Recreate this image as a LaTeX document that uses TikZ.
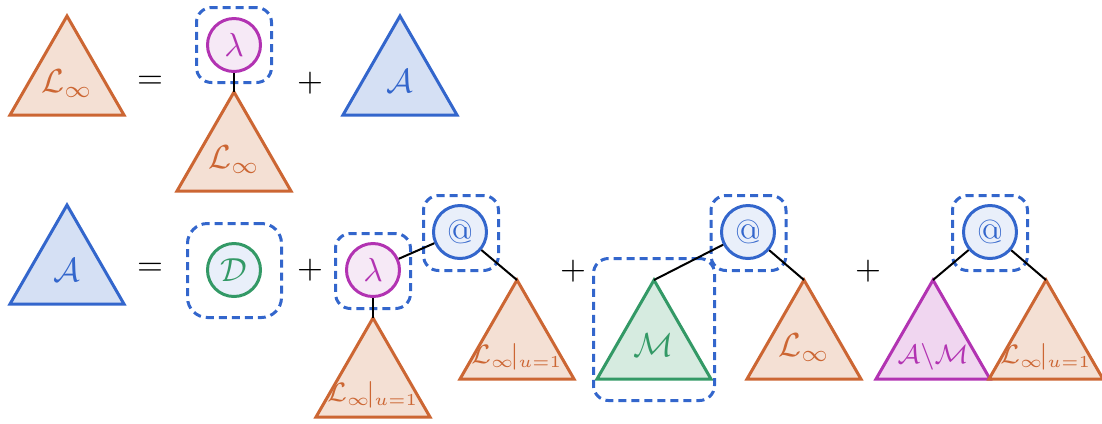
\documentclass[tikz,border=0pt]{standalone}
\usetikzlibrary{calc}
\definecolor{orB}{RGB}{204,102,51}
\definecolor{orF}{RGB}{244,224,212}
\definecolor{blB}{RGB}{51,102,204}
\definecolor{blF}{RGB}{213,224,244}
\definecolor{bcF}{RGB}{233,239,250}
\definecolor{grB}{RGB}{51,153,102}
\definecolor{grF}{RGB}{214,235,224}
\definecolor{mgB}{RGB}{178,51,178}
\definecolor{mgF}{RGB}{240,214,240}
\definecolor{lcF}{RGB}{246,233,246}
\tikzset{
  trishape/.style={line width=0.9pt},
  ttext/.style={anchor=base, inner sep=0pt},
  small/.style={font=\fontsize{7.6}{9}\selectfont},
  circ/.style={circle, line width=0.9pt, minimum size=15.9pt, inner sep=0pt},
  lamnode/.style={circ, draw=mgB, fill=lcF, text=mgB},
  atnode/.style={circ, draw=blB, fill=bcF, text=blB},
  dnode/.style={circ, draw=grB, fill=bcF, text=grB},
  dbox/.style={draw=blB, line width=0.9pt, dash pattern=on 2.4pt off 1.5pt, rounded corners=4.5pt, inner sep=0pt, minimum width=22.5pt, minimum height=22.5pt},
  conn/.style={draw=black, line width=0.6pt},
  op/.style={inner sep=0pt},
}
\newcommand\mytri[6]{%
  \coordinate (#1) at #2;
  \draw[trishape, draw=#3, fill=#4] (#1) -- ++(57,99) -- ++(-114,0) -- cycle;
  \node[ttext, text=#3, #6] (#1-lab) at ($(#1)+(0,76.5)$) {#5};
}
\newcommand\Lu{$\mathcal{L}_{\infty}\!|_{u=1}$}
\begin{document}
\begin{tikzpicture}[x=0.3pt,y=-0.3pt]
\useasboundingbox (0,0) rectangle (1102,423);
% ---- row 1
\mytri{t1}{(67,16)}{orB}{orF}{$\mathcal{L}_\infty$}{}
\node[op] (eq1) at (150,82) {$=$};
\node[dbox] (b1) at (234,45) {};
\node[lamnode] (lam1) at (234,45) {$\lambda$};
\mytri{t2}{(234,92)}{orB}{orF}{$\mathcal{L}_\infty$}{}
\draw[conn] (lam1) -- (t2);
\node[op] (pl1) at (310,83) {$+$};
\mytri{t3}{(400,16)}{blB}{blF}{$\mathcal{A}$}{}
% ---- row 2
\mytri{t4}{(67,205)}{blB}{blF}{$\mathcal{A}$}{}
\node[op] (eq2) at (150,269) {$=$};
\node[dbox, minimum width=28.2pt, minimum height=28.2pt, rounded corners=6pt] (b2) at (234.5,270.5) {};
\node[dnode] (d) at (234,270) {$\mathcal{D}$};
\node[op] (pl2) at (310,270) {$+$};
\node[dbox] (b3) at (373,271) {};
\node[lamnode] (lam2) at (373,270) {$\lambda$};
\node[dbox] (b4) at (461,233) {};
\node[atnode] (at1) at (460,232) {@};
\mytri{t5}{(373,318)}{orB}{orF}{\Lu}{small, yshift=-2.2pt}
\mytri{t6}{(517,280)}{orB}{orF}{\Lu}{small, yshift=-2.2pt}
\draw[conn] (lam2) -- (t5);
\draw[conn] (lam2) -- (at1);
\draw[conn] (at1) -- (t6);
\node[op] (pl3) at (573,271) {$+$};
\node[dbox] (b5) at (748.5,233) {};
\node[atnode] (at2) at (748,232) {@};
\mytri{t7}{(654,280)}{grB}{grF}{$\mathcal{M}$}{}
\node[dbox, minimum width=36.3pt, minimum height=42.6pt] (b6) at (654,329.5) {};
\mytri{t8}{(804,280)}{orB}{orF}{$\mathcal{L}_\infty$}{}
\draw[conn] (at2) -- (t7);
\draw[conn] (at2) -- (t8);
\node[op] (pl4) at (868,271) {$+$};
\node[dbox] (b7) at (990,233) {};
\node[atnode] (at3) at (990,232) {@};
\mytri{t9}{(933,280)}{mgB}{mgF}{$\mathcal{A}\backslash\mathcal{M}$}{small, yshift=-2.2pt}
\mytri{t10}{(1046,280)}{orB}{orF}{\Lu}{small, yshift=-2.2pt}
\draw[conn] (at3) -- (t9);
\draw[conn] (at3) -- (t10);
\end{tikzpicture}
\end{document}
